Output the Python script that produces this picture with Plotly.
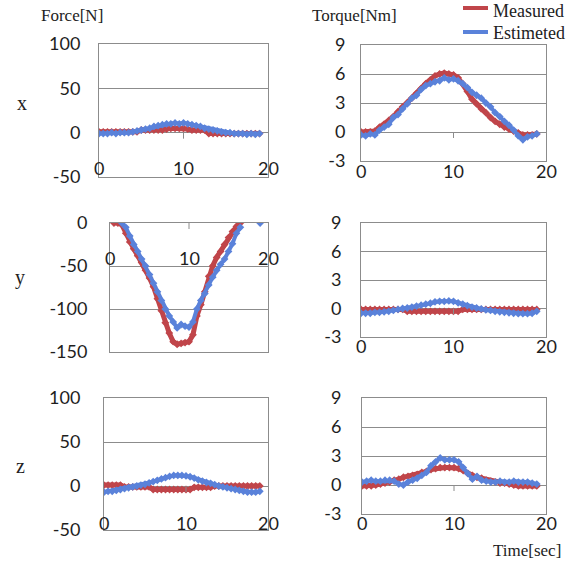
import plotly.graph_objects as go

# ---------------- data ----------------
time_s = [0, 0.5, 1, 1.5, 2, 2.5, 3, 3.5, 4, 4.5, 5, 5.5, 6, 6.5, 7, 7.5, 8, 8.5, 9, 9.5,
          10, 10.5, 11, 11.5, 12, 12.5, 13, 13.5, 14, 14.5, 15, 15.5, 16, 16.5, 17, 17.5, 18, 18.5, 19]

force_x_measured = [1, 1, 1, 1, 1, 1, 1, 1, 1, 1,
                    3, 3, 3, 3, 3, 3,
                    4, 5, 5, 5, 5, 4,
                    3, 3, 3, 3,
                    -1, -1, -1, -1, -1, -1, -1, -1, -1, -1, -1, -1, -1]
force_x_estimated = [-1, -1, -1, 0, -1, 0, 0, 0, 1, 2,
                     3, 4, 5, 7, 8, 9, 10, 10, 11, 10,
                     11, 10, 9, 8, 7, 5, 4, 3, 2, 1,
                     0, 0, -1, -1, -1, -2, -1, -2, -1]

torque_x_measured = [0, 0, 0, 0.1, 0.5, 0.8, 1.2, 1.6, 2.1, 2.6,
                     3.0, 3.5, 4.0, 4.5, 5.0, 5.4, 5.8, 6.0, 6.1, 6.0,
                     5.9, 5.6, 5.0, 4.2, 3.4, 2.9, 2.4, 2.0, 1.5, 1.1,
                     0.8, 0.5, 0.3, 0.1, -0.1, -0.3, -0.3, -0.3, -0.2]
torque_x_estimated = [-0.3, -0.4, -0.2, -0.3, 0.2, 0.5, 0.8, 1.5, 1.8, 2.4,
                      2.9, 3.5, 3.8, 4.4, 4.8, 5.0, 5.2, 5.3, 5.6, 5.4,
                      5.5, 5.3, 5.0, 4.6, 4.1, 3.8, 3.5, 3.0, 2.6, 2.0,
                      1.6, 1.1, 0.7, 0.2, -0.4, -0.8, -0.5, -0.4, -0.2]

force_y_measured = [None, 0, 0, -2, -12, -22, -30, -38, -46, -55,
                    -64, -74, -88, -102, -116, -128, -138, -141, -140, -139,
                    -138, -130, -108, -95, -80, -62, -50, -40, -33, -25,
                    -17, -10, -4, 0, None, None, None, None, None]
force_y_estimated = [None, None, None, 0, -5, -15, -25, -33, -42, -50,
                     -60, -70, -80, -90, -100, -108, -115, -122, -118, -120,
                     -121, -115, -100, -90, -82, -72, -63, -55, -48, -42,
                     -33, -24, -12, -5, None, None, None, None, 0]

torque_y_measured = [-0.1, -0.1, -0.1, -0.1, -0.1, -0.1, -0.1, -0.1, -0.1, -0.1,
                     -0.3, -0.3, -0.3, -0.3, -0.3, -0.3, -0.3, -0.3, -0.3, -0.3,
                     -0.3, -0.3, -0.1, -0.1, -0.1, -0.1, -0.1, -0.1, -0.1, -0.1,
                     -0.1, -0.1, -0.1, -0.1, -0.1, -0.1, -0.1, -0.1, -0.1]
torque_y_estimated = [-0.5, -0.5, -0.5, -0.4, -0.4, -0.35, -0.3, -0.2, -0.1, 0.0,
                      0.05, 0.15, 0.25, 0.35, 0.45, 0.55, 0.7, 0.75, 0.75, 0.8,
                      0.75, 0.6, 0.45, 0.3, 0.15, 0.05, -0.05, -0.15, -0.2, -0.3,
                      -0.35, -0.4, -0.45, -0.5, -0.55, -0.55, -0.55, -0.5, -0.3]

force_z_measured = [1, 1, 1, 1, 1,
                    -1, -1, -1, -1, -1, -1, -1,
                    -4, -4, -4, -4, -4, -4, -4, -4, -4, -4,
                    -1.5, -1.5, -1.5, -1.5, -1.5,
                    0, 0, 0, 0, 0, 0, 0, 0, 0, 0, 0, 0]
force_z_estimated = [-7, -6, -6, -5, -4, -3, -2, -1, 0, 1,
                     2, 3.5, 5, 6.5, 8, 9.5, 11, 12, 12, 12,
                     11.5, 10.5, 9, 7, 5.5, 4, 3, 1.5, 0, -1,
                     -2, -3, -4, -5, -6, -7, -7, -7, -6]

torque_z_measured = [-0.1, -0.1, -0.1, 0, 0.1, 0.2, 0.3, 0.5, 0.6, 0.8,
                     0.9, 1.0, 1.1, 1.3, 1.4, 1.6, 1.7, 1.8, 1.8, 1.8,
                     1.8, 1.7, 1.5, 1.2, 1.0, 0.8, 0.7, 0.5, 0.4, 0.3,
                     0.2, 0.2, 0.1, 0, -0.1, -0.1, -0.1, -0.1, -0.1]
torque_z_estimated = [0.3, 0.4, 0.5, 0.4, 0.4, 0.5, 0.5, 0.4, 0.1, 0.0,
                      0.3, 0.5, 0.7, 1.0, 1.3, 2.0, 2.4, 2.8, 2.6, 2.6,
                      2.6, 2.4, 1.8, 1.2, 0.6, 0.9, 0.5, 0.4, 0.3, 0.3,
                      0.4, 0.3, 0.3, 0.4, 0.3, 0.3, 0.3, 0.2, 0.1]

x_tick_vals = [0, 10, 20]
x_tick_text = ["0", "10", "20"]
force_xz_ticks = [-50, 0, 50, 100]
force_xz_labels = ["-50", "0", "50", "100"]
force_y_ticks = [-150, -100, -50, 0]
force_y_labels = ["-150", "-100", "-50", "0"]
torque_ticks = [-3, 0, 3, 6, 9]
torque_labels = ["-3", "0", "3", "6", "9"]

row_names = ["x", "y", "z"]
series_names = ["Measured", "Estimeted"]

# ---------------- layout / style ----------------
W, H = 576, 565
RED = "#C0454A"
BLUE = "#5A82DA"
GRID = "#8C8C8C"
TICKFONT = dict(family="Lato, Liberation Sans, sans-serif", size=18, color="#1e1e1e")
SERIF = "Liberation Serif, Times New Roman, serif"

# panel pixel boxes (left, top, right, bottom) and label standoffs
panels = [
    dict(box=(99, 44, 268, 177), meas=force_x_measured, est=force_x_estimated,
         rng=[-50, 100], tv=force_xz_ticks, tt=force_xz_labels, standoff=14, lshift=-35),
    dict(box=(361, 45, 546, 161), meas=torque_x_measured, est=torque_x_estimated,
         rng=[-3, 9], tv=torque_ticks, tt=torque_labels, standoff=11, lshift=-39),
    dict(box=(110, 223, 268, 352), meas=force_y_measured, est=force_y_estimated,
         rng=[-150, 0], tv=force_y_ticks, tt=force_y_labels, standoff=18, lshift=-35),
    dict(box=(361, 223, 546, 337), meas=torque_y_measured, est=torque_y_estimated,
         rng=[-3, 9], tv=torque_ticks, tt=torque_labels, standoff=15, lshift=-37),
    dict(box=(104, 398, 268, 530), meas=force_z_measured, est=force_z_estimated,
         rng=[-50, 100], tv=force_xz_ticks, tt=force_xz_labels, standoff=19, lshift=-37),
    dict(box=(362, 398, 546, 514), meas=torque_z_measured, est=torque_z_estimated,
         rng=[-3, 9], tv=torque_ticks, tt=torque_labels, standoff=16, lshift=-38),
]

fig = go.Figure()
layout = dict(width=W, height=H, margin=dict(l=0, r=0, t=0, b=0, autoexpand=False),
              template="none", hovermode=False,
              paper_bgcolor="white", plot_bgcolor="white", showlegend=False)
annotations = []
shapes = []

for i, p in enumerate(panels, start=1):
    l, t, r, b = p["box"]
    xa = "x" if i == 1 else f"x{i}"
    ya = "y" if i == 1 else f"y{i}"
    xkey = "xaxis" if i == 1 else f"xaxis{i}"
    ykey = "yaxis" if i == 1 else f"yaxis{i}"
    layout[xkey] = dict(domain=[l / W, r / W], range=[0, 20], anchor=ya, automargin=False,
                        showgrid=False, zeroline=False, showticklabels=False,
                        ticks="", showline=True, linecolor=GRID, linewidth=1, mirror=True,
                        fixedrange=True)
    layout[ykey] = dict(domain=[1 - b / H, 1 - t / H], range=p["rng"], anchor=xa, automargin=False,
                        tickvals=p["tv"], ticktext=p["tt"], tickfont=TICKFONT,
                        showgrid=True, gridcolor=GRID, gridwidth=1, zeroline=False,
                        ticks="", showline=True, linecolor=GRID, linewidth=1, mirror=True,
                        ticklabelstandoff=p["standoff"], fixedrange=True)
    fig.add_trace(go.Scatter(x=time_s, y=p["meas"], mode="lines+markers", name=series_names[0],
                             xaxis=xa, yaxis=ya, cliponaxis=True,
                             line=dict(color=RED, width=5),
                             marker=dict(color=RED, size=6, symbol="diamond")))
    fig.add_trace(go.Scatter(x=time_s, y=p["est"], mode="lines+markers", name=series_names[1],
                             xaxis=xa, yaxis=ya, cliponaxis=True,
                             line=dict(color=BLUE, width=4),
                             marker=dict(color=BLUE, size=6, symbol="diamond")))
    # x tick labels, placed below the zero line like the original
    for v, s in zip(x_tick_vals, x_tick_text):
        annotations.append(dict(x=v, y=0, xref=xa, yref=ya, text=s, showarrow=False,
                                yshift=p["lshift"], font=TICKFONT, xanchor="center",
                                yanchor="middle"))
    # small tick mark at x = 10 on the zero line
    shapes.append(dict(type="line", xref=xa, yref=ya, x0=10, x1=10,
                       ysizemode="pixel", yanchor=0, y0=0, y1=-6,
                       line=dict(color=GRID, width=1)))

# row labels
row_pos = [(22, 103), (20, 277), (20, 466)]
for name, (px, py) in zip(row_names, row_pos):
    annotations.append(dict(x=px / W, y=1 - py / H, xref="paper", yref="paper", text=name,
                            showarrow=False, font=dict(family=SERIF, size=20, color="#222"),
                            xanchor="center", yanchor="middle"))

# header texts
annotations.append(dict(x=72 / W, y=1 - 15 / H, xref="paper", yref="paper", text="Force[N]",
                        showarrow=False, font=dict(family=SERIF, size=17, color="#222"),
                        xanchor="center", yanchor="middle"))
annotations.append(dict(x=354 / W, y=1 - 15 / H, xref="paper", yref="paper", text="Torque[Nm]",
                        showarrow=False, font=dict(family=SERIF, size=17, color="#222"),
                        xanchor="center", yanchor="middle"))
annotations.append(dict(x=527 / W, y=1 - 550 / H, xref="paper", yref="paper", text="Time[sec]",
                        showarrow=False, font=dict(family=SERIF, size=17, color="#222"),
                        xanchor="center", yanchor="middle"))

# legend
for name, color, sw_y, txt_y in [(series_names[0], RED, 8, 0), (series_names[1], BLUE, 32, 22)]:
    shapes.append(dict(type="line", xref="paper", yref="paper", x0=463 / W, x1=488 / W,
                       y0=1 - sw_y / H, y1=1 - sw_y / H, line=dict(color=color, width=4)))
    annotations.append(dict(x=492 / W, y=1 - txt_y / H, xref="paper", yref="paper", text=name,
                            showarrow=False, font=dict(family=SERIF, size=18, color="#222"),
                            xanchor="left", yanchor="top", borderpad=0))

layout["annotations"] = annotations
layout["shapes"] = shapes
fig.update_layout(**layout)
fig.write_html("out.html", config={"displayModeBar": False, "staticPlot": True},
               post_script="document.body.style.margin='0px';")
